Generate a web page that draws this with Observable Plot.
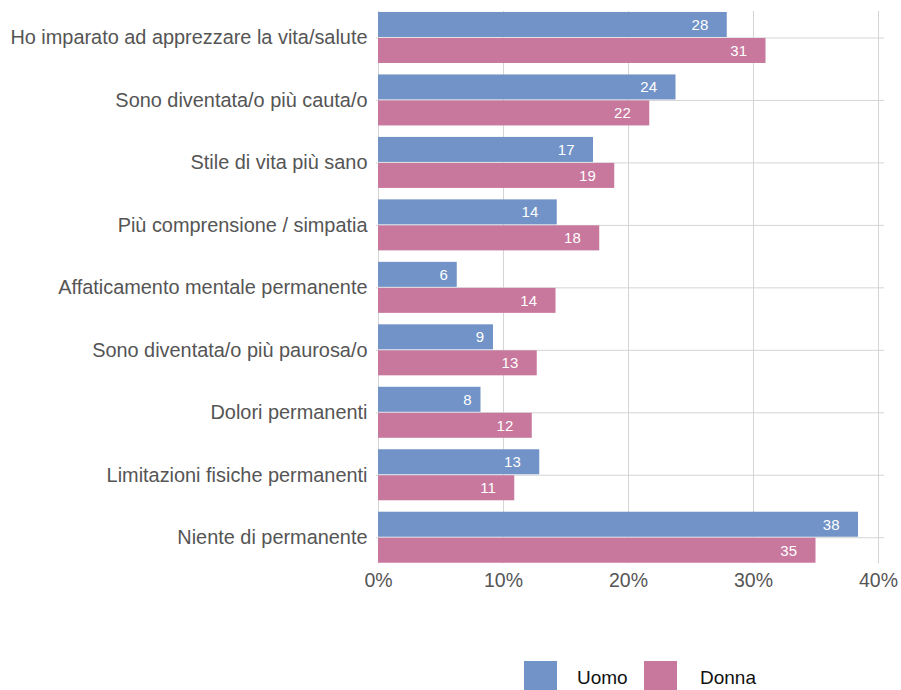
<!DOCTYPE html>
<html>
<head>
<meta charset="utf-8">
<script src="https://cdn.jsdelivr.net/npm/d3@7"></script>
<script src="https://cdn.jsdelivr.net/npm/@observablehq/plot@0.6"></script>
<style>
  html, body { margin: 0; padding: 0; background: #fff; }
  body { width: 901px; height: 690px; overflow: hidden; font-family: "Liberation Sans", Arial, Helvetica, sans-serif; }
  #chart svg { display: block; }
  #legend { position: relative; height: 90px; }
  .item { position: absolute; top: 61px; display: flex; align-items: center; font-size: 19px; color: #111; }
  .sw { width: 33px; height: 33px; display: inline-block; }
</style>
</head>
<body>
<div id="chart"></div>
<div id="legend"></div>
<script>
const categories = [
  "Ho imparato ad apprezzare la vita/salute",
  "Sono diventata/o più cauta/o",
  "Stile di vita più sano",
  "Più comprensione / simpatia",
  "Affaticamento mentale permanente",
  "Sono diventata/o più paurosa/o",
  "Dolori permanenti",
  "Limitazioni fisiche permanenti",
  "Niente di permanente"
];
const series = ["Uomo", "Donna"];
const uomo  = [27.9, 23.8, 17.2, 14.3, 6.3, 9.2, 8.2, 12.9, 38.4];
const donna = [31.0, 21.7, 18.9, 17.7, 14.2, 12.7, 12.3, 10.9, 35.0];
const xTicks = [0, 10, 20, 30, 40];
const colors = ["#7193c7", "#c8779d"];

const rows = [];
categories.forEach((c, i) => {
  rows.push({cat: c, sex: "Uomo", value: uomo[i]});
  rows.push({cat: c, sex: "Donna", value: donna[i]});
});
const rowsU = rows.filter(d => d.sex === "Uomo");
const rowsD = rows.filter(d => d.sex === "Donna");
const lab = d => String(Math.round(d.value));
const short = d => lab(d).length < 2;

const grid = "#d5d5d5";
const chart = Plot.plot({
  width: 901,
  height: 600,
  marginLeft: 378,
  marginRight: 23,
  marginTop: 0.5,
  marginBottom: 25.8,
  style: {fontFamily: "'Liberation Sans', Arial, Helvetica, sans-serif", background: "#fff"},
  x: {domain: [0, 40], ticks: xTicks},
  y: {domain: categories, padding: 0.1835, align: 0.5, round: false},
  marks: [
    Plot.ruleX(xTicks, {x: d => d, stroke: grid, strokeWidth: 1, insetTop: 10.5, insetBottom: 11}),
    Plot.gridY({stroke: grid, strokeOpacity: 1, strokeWidth: 1, insetLeft: -2, insetRight: -6}),
    Plot.barX(rowsU, {y: "cat", x: "value", fill: colors[0], insetBottom: 26}),
    Plot.barX(rowsD, {y: "cat", x: "value", fill: colors[1], insetTop: 26}),
    Plot.text(rowsU.filter(d => !short(d)), {y: "cat", x: "value", text: lab, textAnchor: "end", dx: -19, dy: -13, fill: "#fff", fontSize: 15}),
    Plot.text(rowsU.filter(short), {y: "cat", x: "value", text: lab, textAnchor: "end", dx: -9.5, dy: -13, fill: "#fff", fontSize: 15}),
    Plot.text(rowsD.filter(d => !short(d)), {y: "cat", x: "value", text: lab, textAnchor: "end", dx: -19, dy: 13, fill: "#fff", fontSize: 15}),
    Plot.text(rowsD.filter(short), {y: "cat", x: "value", text: lab, textAnchor: "end", dx: -9.5, dy: 13, fill: "#fff", fontSize: 15}),
    Plot.axisY({tickSize: 0, tickPadding: 11, fontSize: 19.9, color: "#555", label: null}),
    Plot.axisX({ticks: xTicks, tickSize: 0, tickPadding: -2, fontSize: 19.5, color: "#555", tickFormat: d => d + "%", label: null})
  ]
});
document.getElementById("chart").appendChild(chart);

const legend = document.getElementById("legend");
const lefts = [524, 644];
const gaps = [20, 23];
series.forEach((s, i) => {
  const item = document.createElement("div");
  item.className = "item";
  item.style.left = lefts[i] + "px";
  const sw = document.createElement("span");
  sw.className = "sw";
  sw.style.background = colors[i];
  const t = document.createElement("span");
  t.textContent = s;
  t.style.marginLeft = gaps[i] + "px";
  item.appendChild(sw);
  item.appendChild(t);
  legend.appendChild(item);
});
</script>
</body>
</html>
